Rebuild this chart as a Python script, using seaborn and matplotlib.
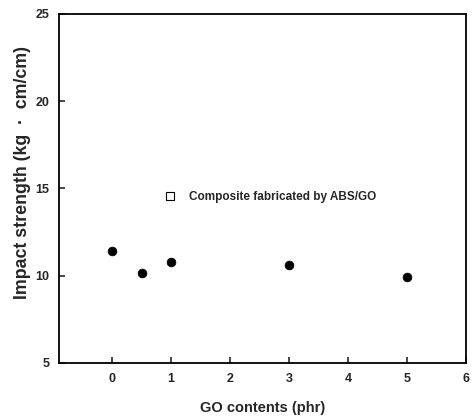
import matplotlib
matplotlib.use("Agg")
import matplotlib.pyplot as plt
from matplotlib.lines import Line2D
import seaborn as sns
import pandas as pd

# Impact strength of ABS/GO composites vs. GO loading
go_contents = [0, 0.5, 1, 3, 5]
impact_strength = [11.42, 10.13, 10.79, 10.62, 9.90]
x_ticks = [0, 1, 2, 3, 4, 5, 6]
y_ticks = [5, 10, 15, 20, 25]
series_label = "Composite fabricated by ABS/GO"

sns.set_style("ticks")
plt.rcParams["font.family"] = ["Liberation Sans", "DejaVu Sans"]
plt.rcParams["font.weight"] = "bold"

df = pd.DataFrame({"go": go_contents, "impact": impact_strength})

fig = plt.figure(figsize=(4.72, 4.2), dpi=100)
ax = fig.add_axes([0.125, 0.136, 0.862, 0.831])

sns.scatterplot(data=df, x="go", y="impact", ax=ax, color="black",
                marker="o", s=40, edgecolor="black", linewidth=0.5,
                legend=False, zorder=3)

ax.set_xlim(-0.9, 6)
ax.set_ylim(5, 25)
ax.set_xticks(x_ticks)
ax.set_yticks(y_ticks)
ax.tick_params(direction="in", length=4, width=1.2, labelsize=9, pad=7)
for lbl in ax.get_xticklabels() + ax.get_yticklabels():
    lbl.set_fontweight("bold")
for sp in ax.spines.values():
    sp.set_linewidth(1.3)
    sp.set_color("black")

ax.set_xlabel("GO contents (phr)", fontsize=10.5, fontweight="bold", labelpad=12)
ax.set_ylabel("Impact strength (kg  \u00b7  cm/cm)", fontsize=12.8,
              fontweight="bold")
ax.yaxis.set_label_coords(-0.068, 0.545)

handle = Line2D([], [], linestyle="none", marker="s", markersize=6,
                markerfacecolor="white", markeredgecolor="black",
                markeredgewidth=0.8)
ax.legend([handle], [series_label], loc="center left",
          bbox_to_anchor=(0.218, 0.476), frameon=False,
          handletextpad=0.6, prop={"size": 8.5, "weight": "bold"})

fig.savefig("out.png", dpi=100)
